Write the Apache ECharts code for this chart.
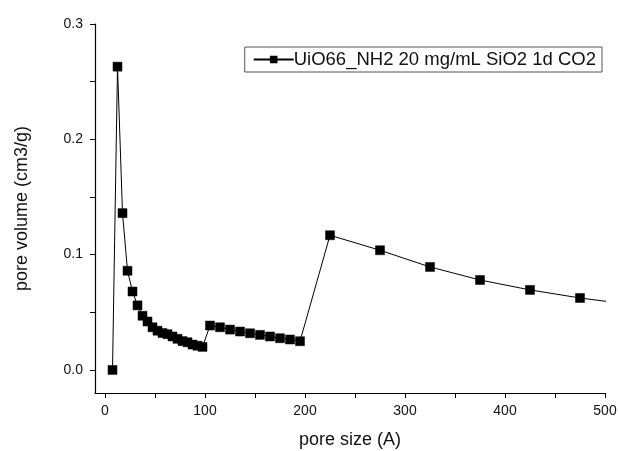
<!DOCTYPE html>
<html><head><meta charset="utf-8">
<script src="https://cdn.jsdelivr.net/npm/echarts@6/dist/echarts.min.js"></script>
<style>html,body{margin:0;padding:0;background:#fff}#c{width:618px;height:451px}</style>
</head><body><div id="c"></div>
<script>
var poreSize = [7.5,12.5,17.5,22.5,27.5,32.5,37.5,42.5,47.5,52.5,57.5,62.5,67.5,72.5,77.5,82.5,87.5,92.5,97.5,
  105,115,125,135,145,155,165,175,185,195,225,275,325,375,425,475,525];
var poreVolume = [0.000,0.263,0.136,0.086,0.068,0.056,0.047,0.042,0.037,0.034,0.032,0.031,0.029,0.027,0.025,0.024,0.022,0.021,0.020,
  0.0385,0.037,0.035,0.0333,0.0318,0.0304,0.029,0.0275,0.0264,0.0249,0.1168,0.1038,0.0893,0.078,0.0694,0.0624,0.0568];
var seriesName = 'UiO66_NH2 20 mg/mL SiO2 1d CO2';
var xTicks = [0,100,200,300,400,500];
var yTicks = [0.0,0.1,0.2,0.3];

var data = poreSize.map(function(x,i){return [x,poreVolume[i]];});
var chart = echarts.init(document.getElementById('c'));
var font = 'Liberation Sans, Arial, sans-serif';
chart.setOption({
  animation:false,
  grid:{left:95,right:13,top:24,bottom:58,containLabel:false,outerBoundsMode:'none'},
  legend:{
    show:true, right:16, top:47, orient:'horizontal',
    data:[seriesName],
    borderColor:'#555', borderWidth:1, padding:[3,6,3,8],
    itemWidth:40, itemHeight:7, itemGap:0,
    textStyle:{fontFamily:font,fontSize:18.5,color:'#111',padding:[0,0,0,-5]}
  },
  xAxis:{
    type:'value', min:-10, max:500, interval:50,
    axisLine:{show:true,onZero:false,lineStyle:{color:'#000',width:1.2}},
    axisTick:{show:true,inside:false,length:5,lineStyle:{color:'#000'},
      customValues:[0,50,100,150,200,250,300,350,400,450,500]},
    axisLabel:{fontFamily:font,fontSize:14,color:'#111',margin:11,
      customValues:xTicks, formatter:function(v){return String(v);}},
    splitLine:{show:false},
    name:'pore size (A)', nameLocation:'middle', nameGap:38,
    nameTextStyle:{fontFamily:font,fontSize:18,color:'#111'}
  },
  yAxis:{
    type:'value', min:-0.02, max:0.3,
    axisLine:{show:true,onZero:false,lineStyle:{color:'#000',width:1.2}},
    axisTick:{show:true,inside:false,length:5,lineStyle:{color:'#000'},
      customValues:[0,0.05,0.1,0.15,0.2,0.25,0.3]},
    axisLabel:{fontFamily:font,fontSize:14,color:'#111',margin:12,
      customValues:yTicks, formatter:function(v){return v.toFixed(1);}},
    splitLine:{show:false},
    name:'pore volume (cm3/g)', nameLocation:'middle', nameGap:64, nameRotate:90,
    nameTextStyle:{fontFamily:font,fontSize:18,color:'#111'}
  },
  series:[{
    name:seriesName, type:'line', data:data,
    symbol:'rect', symbolSize:9, showAllSymbol:true, clip:true,
    lineStyle:{color:'#000',width:1},
    itemStyle:{color:'#000',borderColor:'#000',borderWidth:0.5}
  }]
});
</script></body></html>
